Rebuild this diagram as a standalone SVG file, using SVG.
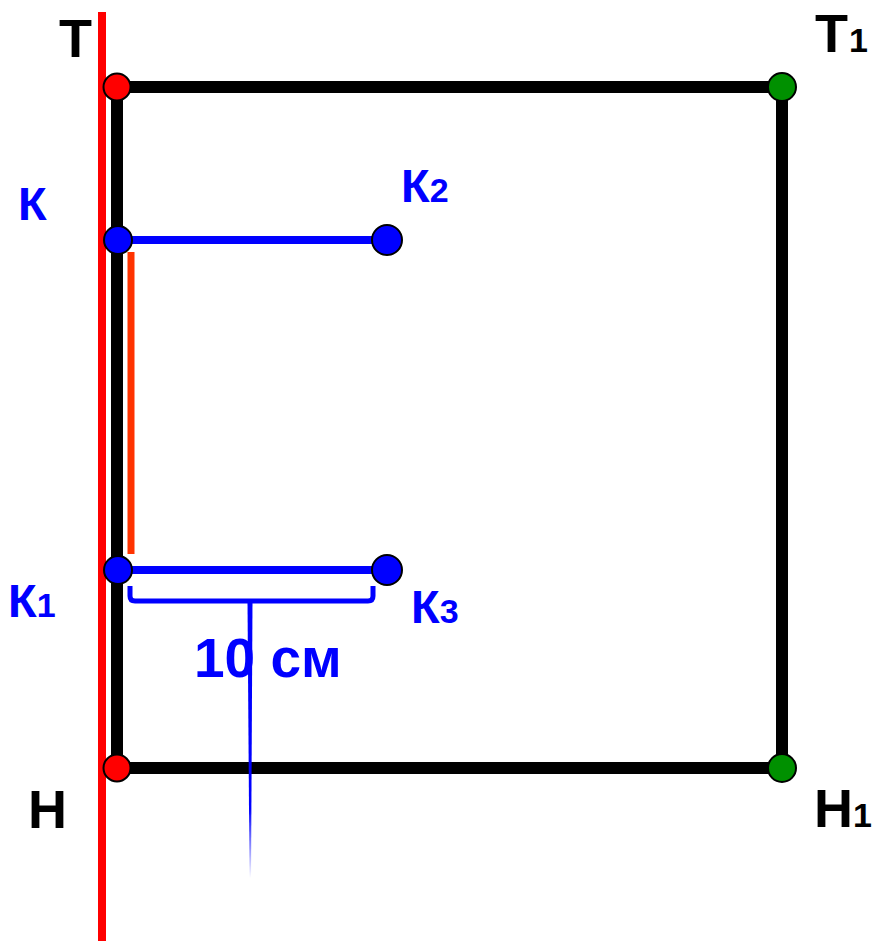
<svg xmlns="http://www.w3.org/2000/svg" width="875" height="941" viewBox="0 0 875 941">
<style>
.lbl{font-family:"Liberation Sans",Arial,sans-serif;font-weight:bold}
.blk{fill:#000;font-size:54px}
.blu{fill:#0000FF;font-size:47px}
.sub{font-size:34px}
.pt{stroke:#000;stroke-width:2}
.frame{stroke:#000;stroke-width:12;fill:none;stroke-linecap:square}
.bl{stroke:#0000FF;stroke-width:8}
</style>
<defs>
<linearGradient id="fade" x1="0" y1="0" x2="0" y2="1">
<stop offset="0" stop-color="#0000FF" stop-opacity="1"/>
<stop offset="0.75" stop-color="#0000FF" stop-opacity="1"/>
<stop offset="1" stop-color="#0000FF" stop-opacity="0"/>
</linearGradient>
</defs>
<rect width="875" height="941" fill="#fff"/>
<g id="connectors">
<line x1="102" y1="12" x2="102" y2="941" stroke="#FF0000" stroke-width="8"/>
<path class="frame" d="M117,87 H782 V768 H117 Z"/>
<line x1="131" y1="252" x2="131" y2="554" stroke="#FF3300" stroke-width="7"/>
<line class="bl" x1="118" y1="240" x2="387" y2="240"/>
<line class="bl" x1="118" y1="570" x2="387" y2="570" stroke-width="7"/>
<path d="M130,586 V596 Q130,601 135,601 H368 Q373,601 373,596 V586" fill="none" stroke="#0000FF" stroke-width="5"/>
<polygon points="247.5,601 252.5,601 251,878 249.5,878" fill="url(#fade)"/>
</g>
<g id="T"><circle class="pt" cx="117" cy="87" r="13.5" fill="#FF0000"/><text class="lbl blk" x="59" y="57">Т</text></g>
<g id="T1"><circle class="pt" cx="782" cy="87" r="14" fill="#009000"/><text class="lbl blk" x="815" y="52">Т<tspan class="sub" dx="1">1</tspan></text></g>
<g id="H"><circle class="pt" cx="117" cy="768" r="13.5" fill="#FF0000"/><text class="lbl blk" x="28" y="828">Н</text></g>
<g id="H1"><circle class="pt" cx="782" cy="768" r="14" fill="#009000"/><text class="lbl blk" x="814" y="827">Н<tspan class="sub">1</tspan></text></g>
<g id="K"><circle class="pt" cx="118" cy="240" r="14" fill="#0000FF"/><text class="lbl blu" x="18" y="220">К</text></g>
<g id="K2"><circle class="pt" cx="387" cy="240" r="15" fill="#0000FF"/><text class="lbl blu" x="401" y="202">К<tspan class="sub">2</tspan></text></g>
<g id="K1"><circle class="pt" cx="118" cy="570" r="14" fill="#0000FF"/><text class="lbl blu" x="8" y="617">К<tspan class="sub">1</tspan></text></g>
<g id="K3"><circle class="pt" cx="387" cy="570" r="15" fill="#0000FF"/><text class="lbl blu" x="411" y="623">К<tspan class="sub">3</tspan></text></g>
<g id="dim"><text class="lbl" x="194" y="677" font-size="55" fill="#0000FF">10 см</text></g>
</svg>
